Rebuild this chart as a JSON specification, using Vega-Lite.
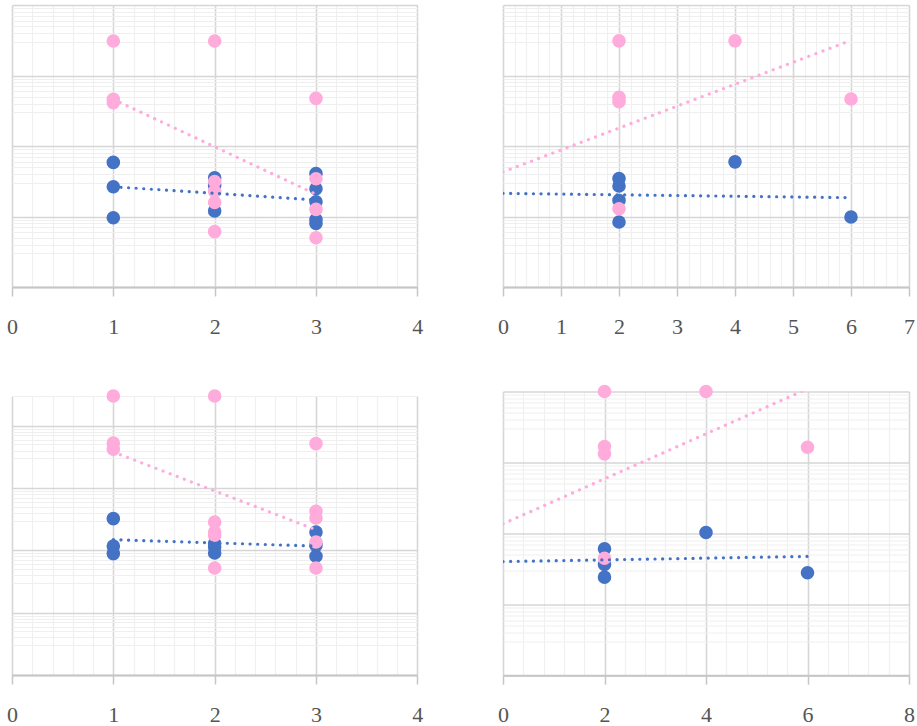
{
  "$schema": "https://vega.github.io/schema/vega-lite/v6.json",
  "background": "white",
  "padding": {"left": 6, "top": 5, "right": 0, "bottom": 0},
  "config": {
    "view": {"stroke": null},
    "axisX": {"grid": true, "title": null, "domainColor": "#c6c6c6", "domainWidth": 2, "tickColor": "#c6c6c6", "tickSize": 9, "tickWidth": 1.5, "labelFont": "Liberation Serif, Times New Roman, DejaVu Serif, serif", "labelFontSize": 22, "labelColor": "#555555", "labelPadding": 20, "labelOverlap": false, "labelFlush": false},
    "axisY": {"grid": true, "title": null, "labels": false, "ticks": false, "domain": false}
  },
  "datasets": {
    "pts": [
      {"p": "TL", "s": "blue", "x": 1, "y": 58.5}, {"p": "TL", "s": "blue", "x": 1, "y": 26.4}, {"p": "TL", "s": "blue", "x": 1, "y": 9.6},
      {"p": "TL", "s": "blue", "x": 2, "y": 35.3}, {"p": "TL", "s": "blue", "x": 2, "y": 27.6}, {"p": "TL", "s": "blue", "x": 2, "y": 12.0},
      {"p": "TL", "s": "blue", "x": 3, "y": 40.8}, {"p": "TL", "s": "blue", "x": 3, "y": 24.8}, {"p": "TL", "s": "blue", "x": 3, "y": 16.2}, {"p": "TL", "s": "blue", "x": 3, "y": 9.08}, {"p": "TL", "s": "blue", "x": 3, "y": 7.97},
      {"p": "TL", "s": "pink", "x": 1, "y": 3080}, {"p": "TL", "s": "pink", "x": 1, "y": 459}, {"p": "TL", "s": "pink", "x": 1, "y": 412},
      {"p": "TL", "s": "pink", "x": 2, "y": 3080}, {"p": "TL", "s": "pink", "x": 2, "y": 31.4}, {"p": "TL", "s": "pink", "x": 2, "y": 22.7}, {"p": "TL", "s": "pink", "x": 2, "y": 15.8}, {"p": "TL", "s": "pink", "x": 2, "y": 6.1},
      {"p": "TL", "s": "pink", "x": 3, "y": 474}, {"p": "TL", "s": "pink", "x": 3, "y": 34.3}, {"p": "TL", "s": "pink", "x": 3, "y": 12.6}, {"p": "TL", "s": "pink", "x": 3, "y": 4.99},

      {"p": "TR", "s": "blue", "x": 2, "y": 34.5}, {"p": "TR", "s": "blue", "x": 2, "y": 27.1}, {"p": "TR", "s": "blue", "x": 2, "y": 16.9}, {"p": "TR", "s": "blue", "x": 2, "y": 8.34},
      {"p": "TR", "s": "blue", "x": 4, "y": 59.6}, {"p": "TR", "s": "blue", "x": 6, "y": 9.82},
      {"p": "TR", "s": "pink", "x": 2, "y": 3104}, {"p": "TR", "s": "pink", "x": 2, "y": 490}, {"p": "TR", "s": "pink", "x": 2, "y": 426}, {"p": "TR", "s": "pink", "x": 2, "y": 12.9},
      {"p": "TR", "s": "pink", "x": 4, "y": 3104}, {"p": "TR", "s": "pink", "x": 6, "y": 464},

      {"p": "BL", "s": "blue", "x": 1, "y": 323}, {"p": "BL", "s": "blue", "x": 1, "y": 117.5}, {"p": "BL", "s": "blue", "x": 1, "y": 88.7},
      {"p": "BL", "s": "blue", "x": 2, "y": 128.4}, {"p": "BL", "s": "blue", "x": 2, "y": 113.2}, {"p": "BL", "s": "blue", "x": 2, "y": 90.7},
      {"p": "BL", "s": "blue", "x": 3, "y": 197}, {"p": "BL", "s": "blue", "x": 3, "y": 120.5}, {"p": "BL", "s": "blue", "x": 3, "y": 80.3},
      {"p": "BL", "s": "pink", "x": 1, "y": 30000}, {"p": "BL", "s": "pink", "x": 1, "y": 5284}, {"p": "BL", "s": "pink", "x": 1, "y": 4185},
      {"p": "BL", "s": "pink", "x": 2, "y": 30000}, {"p": "BL", "s": "pink", "x": 2, "y": 285}, {"p": "BL", "s": "pink", "x": 2, "y": 197}, {"p": "BL", "s": "pink", "x": 2, "y": 174.5}, {"p": "BL", "s": "pink", "x": 2, "y": 52.1},
      {"p": "BL", "s": "pink", "x": 3, "y": 5164}, {"p": "BL", "s": "pink", "x": 3, "y": 423}, {"p": "BL", "s": "pink", "x": 3, "y": 330}, {"p": "BL", "s": "pink", "x": 3, "y": 136}, {"p": "BL", "s": "pink", "x": 3, "y": 52.1},

      {"p": "BR", "s": "blue", "x": 2, "y": 60.5}, {"p": "BR", "s": "blue", "x": 2, "y": 36.4}, {"p": "BR", "s": "blue", "x": 2, "y": 24.1},
      {"p": "BR", "s": "blue", "x": 4, "y": 102.8}, {"p": "BR", "s": "blue", "x": 6, "y": 27.8},
      {"p": "BR", "s": "pink", "x": 2, "y": 10000}, {"p": "BR", "s": "pink", "x": 2, "y": 1676}, {"p": "BR", "s": "pink", "x": 2, "y": 1322}, {"p": "BR", "s": "pink", "x": 2, "y": 44.6},
      {"p": "BR", "s": "pink", "x": 4, "y": 10000}, {"p": "BR", "s": "pink", "x": 6, "y": 1638}
    ],
    "trend": [
      {"p": "TL", "s": "blue", "x": 1, "y": 26.4}, {"p": "TL", "s": "blue", "x": 3, "y": 17.2},
      {"p": "TL", "s": "pink", "x": 1, "y": 459}, {"p": "TL", "s": "pink", "x": 3, "y": 20.7},
      {"p": "TR", "s": "blue", "x": 0, "y": 21.3}, {"p": "TR", "s": "blue", "x": 6, "y": 18.5},
      {"p": "TR", "s": "pink", "x": 0, "y": 42.9}, {"p": "TR", "s": "pink", "x": 6, "y": 3145},
      {"p": "BL", "s": "blue", "x": 1, "y": 148.8}, {"p": "BL", "s": "blue", "x": 3, "y": 117},
      {"p": "BL", "s": "pink", "x": 1, "y": 3788}, {"p": "BL", "s": "pink", "x": 3, "y": 214},
      {"p": "BR", "s": "blue", "x": 0, "y": 40}, {"p": "BR", "s": "blue", "x": 6, "y": 47.3},
      {"p": "BR", "s": "pink", "x": 0, "y": 136.3}, {"p": "BR", "s": "pink", "x": 6, "y": 10900}
    ]
  },
  "spacing": 74,
  "hconcat": [
    {
      "spacing": 52,
      "vconcat": [
        {
          "width": 405.3, "height": 282,
          "encoding": {
            "x": {"field": "x", "type": "quantitative", "scale": {"domain": [0, 4], "nice": false, "zero": false},
              "axis": {"values": [0,0.2,0.4,0.6,0.8,1,1.2,1.4,1.6,1.8,2,2.2,2.4,2.6,2.8,3,3.2,3.4,3.6,3.8,4],
                "gridColor": {"condition": {"test": "datum.value % 1 === 0", "value": "#d6d6d6"}, "value": "#f0f0f0"},
                "gridWidth": {"condition": {"test": "datum.value % 1 === 0", "value": 1.6}, "value": 1.2},
                "tickOpacity": {"condition": {"test": "datum.value % 1 === 0", "value": 1}, "value": 0},
                "labelExpr": "datum.value % 1 === 0 ? format(datum.value, 'd') : ''"}},
            "y": {"field": "y", "type": "quantitative", "scale": {"type": "log", "domain": [1, 10000], "nice": false},
              "axis": {"values": [1,3,4,5,6,7,8,9,10,30,40,50,60,70,80,90,100,300,400,500,600,700,800,900,1000,3000,4000,5000,6000,7000,8000,9000,10000],
                "gridColor": {"condition": {"test": "abs(log(datum.value)/LN10 - round(log(datum.value)/LN10)) < 0.001", "value": "#d6d6d6"}, "value": "#efefef"},
                "gridWidth": {"condition": {"test": "abs(log(datum.value)/LN10 - round(log(datum.value)/LN10)) < 0.001", "value": 1.6}, "value": 1.2}}},
            "color": {"field": "s", "type": "nominal", "scale": {"domain": ["blue", "pink"], "range": ["#4472C4", "#FFABDB"]}, "legend": null}
          },
          "layer": [
            {"data": {"name": "pts"}, "transform": [{"filter": "datum.p === 'TL'"}], "mark": {"type": "circle", "size": 185, "opacity": 1}},
            {"data": {"name": "trend"}, "transform": [{"filter": "datum.p === 'TL'"}], "mark": {"type": "line", "strokeDash": [0.1, 7.5], "strokeCap": "round", "strokeWidth": 3.2, "clip": true}}
          ]
        },
        {
          "width": 405.3, "height": 279,
          "encoding": {
            "x": {"field": "x", "type": "quantitative", "scale": {"domain": [0, 4], "nice": false, "zero": false},
              "axis": {"values": [0,0.2,0.4,0.6,0.8,1,1.2,1.4,1.6,1.8,2,2.2,2.4,2.6,2.8,3,3.2,3.4,3.6,3.8,4],
                "gridColor": {"condition": {"test": "datum.value % 1 === 0", "value": "#d6d6d6"}, "value": "#f0f0f0"},
                "gridWidth": {"condition": {"test": "datum.value % 1 === 0", "value": 1.6}, "value": 1.2},
                "tickOpacity": {"condition": {"test": "datum.value % 1 === 0", "value": 1}, "value": 0},
                "labelExpr": "datum.value % 1 === 0 ? format(datum.value, 'd') : ''"}},
            "y": {"field": "y", "type": "quantitative", "scale": {"type": "log", "domain": [1, 30000], "nice": false},
              "axis": {"values": [1,3,4,5,6,7,8,9,10,30,40,50,60,70,80,90,100,300,400,500,600,700,800,900,1000,3000,4000,5000,6000,7000,8000,9000,10000,30000],
                "gridColor": {"condition": {"test": "abs(log(datum.value)/LN10 - round(log(datum.value)/LN10)) < 0.001", "value": "#d6d6d6"}, "value": "#efefef"},
                "gridWidth": {"condition": {"test": "abs(log(datum.value)/LN10 - round(log(datum.value)/LN10)) < 0.001", "value": 1.6}, "value": 1.2}}},
            "color": {"field": "s", "type": "nominal", "scale": {"domain": ["blue", "pink"], "range": ["#4472C4", "#FFABDB"]}, "legend": null}
          },
          "layer": [
            {"data": {"name": "pts"}, "transform": [{"filter": "datum.p === 'BL'"}], "mark": {"type": "circle", "size": 185, "opacity": 1}},
            {"data": {"name": "trend"}, "transform": [{"filter": "datum.p === 'BL'"}], "mark": {"type": "line", "strokeDash": [0.1, 7.5], "strokeCap": "round", "strokeWidth": 3.2, "clip": true}}
          ]
        }
      ]
    },
    {
      "spacing": 47.5,
      "vconcat": [
        {
          "width": 406, "height": 282,
          "encoding": {
            "x": {"field": "x", "type": "quantitative", "scale": {"domain": [0, 7], "nice": false, "zero": false},
              "axis": {"values": [0,0.2,0.4,0.6,0.8,1,1.2,1.4,1.6,1.8,2,2.2,2.4,2.6,2.8,3,3.2,3.4,3.6,3.8,4,4.2,4.4,4.6,4.8,5,5.2,5.4,5.6,5.8,6,6.2,6.4,6.6,6.8,7],
                "gridColor": {"condition": {"test": "datum.value % 1 === 0", "value": "#d6d6d6"}, "value": "#f0f0f0"},
                "gridWidth": {"condition": {"test": "datum.value % 1 === 0", "value": 1.6}, "value": 1.2},
                "tickOpacity": {"condition": {"test": "datum.value % 1 === 0", "value": 1}, "value": 0},
                "labelExpr": "datum.value % 1 === 0 ? format(datum.value, 'd') : ''"}},
            "y": {"field": "y", "type": "quantitative", "scale": {"type": "log", "domain": [1, 10000], "nice": false},
              "axis": {"values": [1,3,4,5,6,7,8,9,10,30,40,50,60,70,80,90,100,300,400,500,600,700,800,900,1000,3000,4000,5000,6000,7000,8000,9000,10000],
                "gridColor": {"condition": {"test": "abs(log(datum.value)/LN10 - round(log(datum.value)/LN10)) < 0.001", "value": "#d6d6d6"}, "value": "#efefef"},
                "gridWidth": {"condition": {"test": "abs(log(datum.value)/LN10 - round(log(datum.value)/LN10)) < 0.001", "value": 1.6}, "value": 1.2}}},
            "color": {"field": "s", "type": "nominal", "scale": {"domain": ["blue", "pink"], "range": ["#4472C4", "#FFABDB"]}, "legend": null}
          },
          "layer": [
            {"data": {"name": "pts"}, "transform": [{"filter": "datum.p === 'TR'"}], "mark": {"type": "circle", "size": 185, "opacity": 1}},
            {"data": {"name": "trend"}, "transform": [{"filter": "datum.p === 'TR'"}], "mark": {"type": "line", "strokeDash": [0.1, 7.5], "strokeCap": "round", "strokeWidth": 3.2, "clip": true}}
          ]
        },
        {
          "width": 406, "height": 283.7,
          "encoding": {
            "x": {"field": "x", "type": "quantitative", "scale": {"domain": [0, 8], "nice": false, "zero": false},
              "axis": {"values": [0,0.4,0.8,1.2,1.6,2,2.4,2.8,3.2,3.6,4,4.4,4.8,5.2,5.6,6,6.4,6.8,7.2,7.6,8],
                "gridColor": {"condition": {"test": "datum.value % 2 === 0", "value": "#d6d6d6"}, "value": "#f0f0f0"},
                "gridWidth": {"condition": {"test": "datum.value % 2 === 0", "value": 1.6}, "value": 1.2},
                "tickOpacity": {"condition": {"test": "datum.value % 2 === 0", "value": 1}, "value": 0},
                "labelExpr": "datum.value % 2 === 0 ? format(datum.value, 'd') : ''"}},
            "y": {"field": "y", "type": "quantitative", "scale": {"type": "log", "domain": [1, 10000], "nice": false},
              "axis": {"values": [1,3,4,5,6,7,8,9,10,30,40,50,60,70,80,90,100,300,400,500,600,700,800,900,1000,3000,4000,5000,6000,7000,8000,9000,10000],
                "gridColor": {"condition": {"test": "abs(log(datum.value)/LN10 - round(log(datum.value)/LN10)) < 0.001", "value": "#d6d6d6"}, "value": "#efefef"},
                "gridWidth": {"condition": {"test": "abs(log(datum.value)/LN10 - round(log(datum.value)/LN10)) < 0.001", "value": 1.6}, "value": 1.2}}},
            "color": {"field": "s", "type": "nominal", "scale": {"domain": ["blue", "pink"], "range": ["#4472C4", "#FFABDB"]}, "legend": null}
          },
          "layer": [
            {"data": {"name": "pts"}, "transform": [{"filter": "datum.p === 'BR'"}], "mark": {"type": "circle", "size": 185, "opacity": 1}},
            {"data": {"name": "trend"}, "transform": [{"filter": "datum.p === 'BR'"}], "mark": {"type": "line", "strokeDash": [0.1, 7.5], "strokeCap": "round", "strokeWidth": 3.2, "clip": true}}
          ]
        }
      ]
    }
  ]
}
